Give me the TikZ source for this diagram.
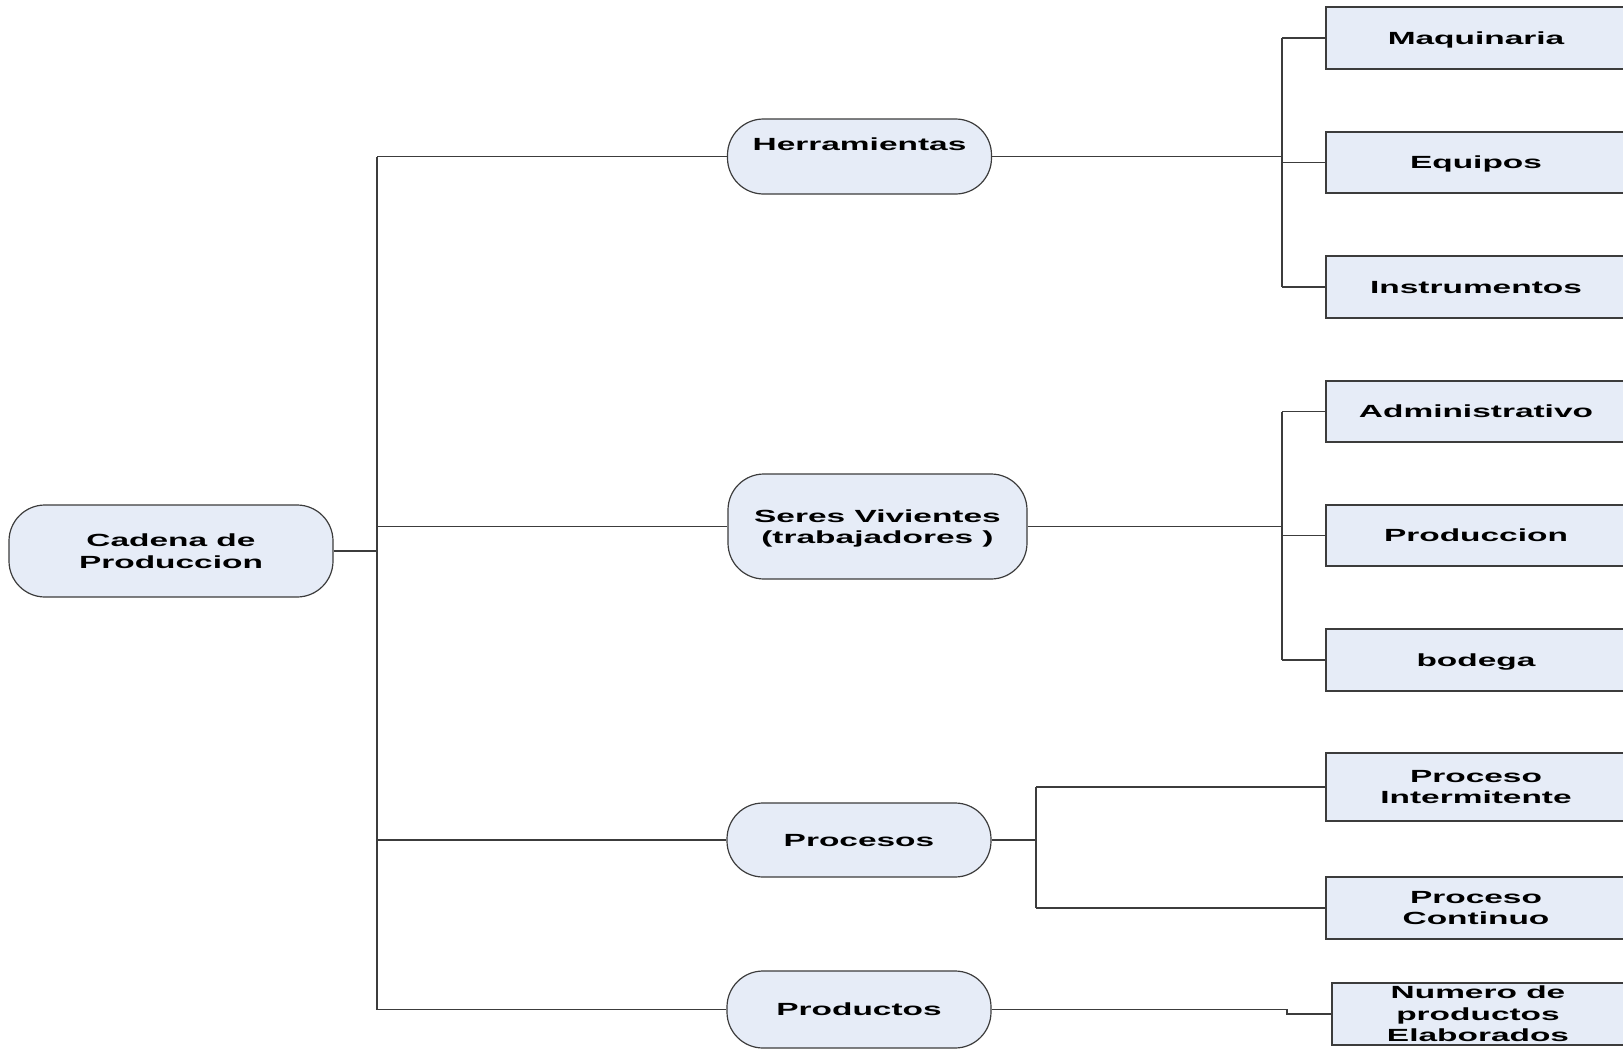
\documentclass[tikz,border=0pt]{standalone}
\usepackage{fontspec}
\setmainfont{Liberation Sans}[FakeStretch=1.9]
\definecolor{boxfill}{RGB}{230,236,247}
\definecolor{edge}{RGB}{60,60,60}
\begin{document}
\begin{tikzpicture}[x=0.5pt,y=-0.5pt,
  every node/.style={font=\bfseries\fontsize{8.8}{10.75}\selectfont, align=center,
    inner sep=0pt, text height=6.3pt, text depth=0pt},
  multi/.style={text height={}, text depth=0pt},
  topic/.style={draw=edge, line width=0.6pt, fill=boxfill, rounded corners=18pt,
    minimum width=132pt, minimum height=37.5pt},
  leaf/.style={draw=edge, line width=0.6pt, fill=boxfill,
    minimum width=150pt, minimum height=31pt},
  link/.style={draw=edge, line width=0.55pt}]
\useasboundingbox (0,0) rectangle (1623,1049);
\clip (0,0) rectangle (1623,1049);

% root and main branches
\node[topic, multi, minimum width=162pt, minimum height=46pt] (root) at (171,551) {Cadena de\\Produccion};
\node[topic] (herr) at (859.5,156.5) {\raisebox{6pt}[\height][\depth]{Herramientas}};
\node[topic, multi, minimum width=149.5pt, minimum height=52.5pt] (seres) at (877.5,526.5) {Seres Vivientes\\(trabajadores )};
\node[topic, minimum height=37pt] (proc) at (859,840) {Procesos};
\node[topic, minimum height=38.5pt] (prodm) at (859,1009.5) {Productos};

% leaves
\node[leaf] (maq) at (1476,38) {Maquinaria};
\node[leaf, minimum height=30.5pt] (equ) at (1476,162.5) {Equipos};
\node[leaf] (ins) at (1476,287) {Instrumentos};
\node[leaf, minimum height=30.5pt] (adm) at (1476,411.5) {Administrativo};
\node[leaf, minimum height=30.5pt] (pro) at (1476,535.5) {Produccion};
\node[leaf] (bod) at (1476,660) {bodega};
\node[leaf, multi, minimum height=34pt] (pint) at (1476,787) {Proceso\\Intermitente};
\node[leaf, multi] (pcon) at (1476,908) {Proceso\\Continuo};
\node[leaf, multi, minimum width=146pt] (num) at (1478,1014) {Numero de\\productos\\Elaborados};

% bus positions
\coordinate (busA) at (377,0);
\coordinate (busB) at (1282,0);
\coordinate (busC) at (1036,0);
\coordinate (kink) at (1287,0);

% root to main branches
\draw[link] (root.east) -- (root.east -| busA);
\draw[link] (herr.west -| busA) -- (prodm.west -| busA);
\foreach \n in {herr,seres,proc,prodm}
  \draw[link] (\n.west -| busA) -- (\n.west);

% Herramientas group
\draw[link] (herr.east) -- (herr.east -| busB);
\draw[link] (maq.west -| busB) -- (ins.west -| busB);
\foreach \n in {maq,equ,ins}
  \draw[link] (\n.west -| busB) -- (\n.west);

% Seres Vivientes group
\draw[link] (seres.east) -- (seres.east -| busB);
\draw[link] (adm.west -| busB) -- (bod.west -| busB);
\foreach \n in {adm,pro,bod}
  \draw[link] (\n.west -| busB) -- (\n.west);

% Procesos group
\draw[link] (proc.east) -- (proc.east -| busC);
\draw[link] (pint.west -| busC) -- (pcon.west -| busC);
\foreach \n in {pint,pcon}
  \draw[link] (\n.west -| busC) -- (\n.west);

% Productos
\draw[link] (prodm.east) -- (prodm.east -| kink) -- (kink |- num.west) -- (num.west);
\end{tikzpicture}
\end{document}
